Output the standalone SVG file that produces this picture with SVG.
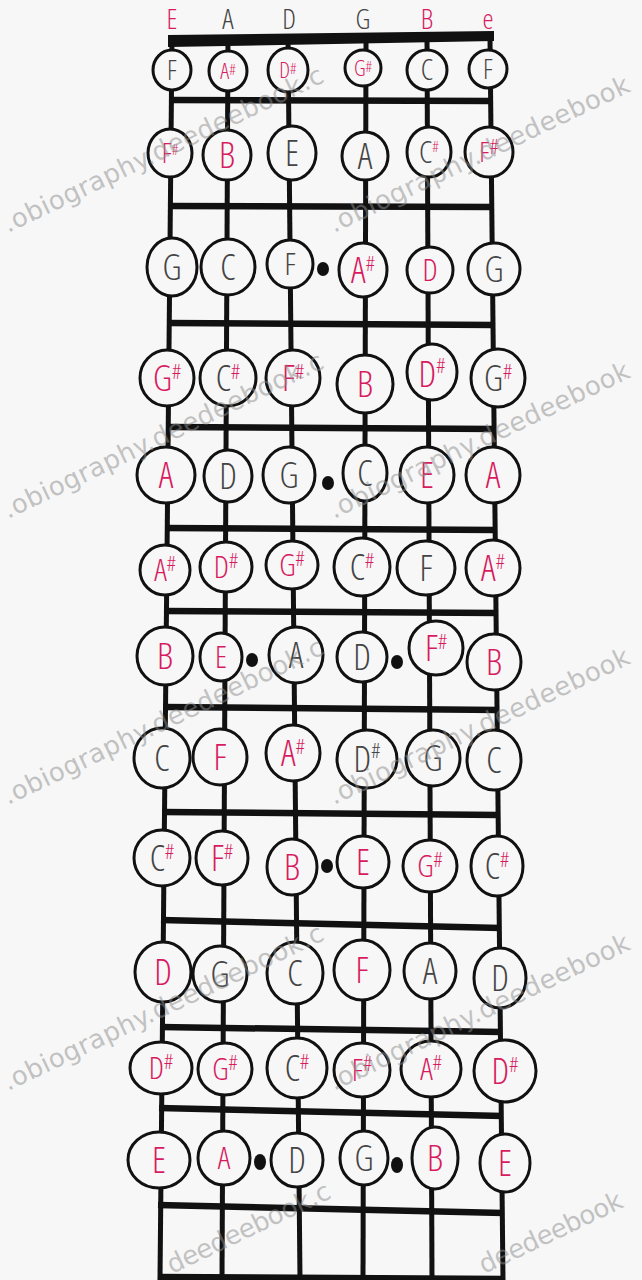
<svg xmlns="http://www.w3.org/2000/svg" width="642" height="1280" viewBox="0 0 642 1280">
<style>
.bg{fill:#f7f7f7}
.str{stroke:#111;stroke-width:5;stroke-linecap:butt}
.fret{stroke:#111;stroke-width:6.5;stroke-linecap:butt}
.nut{fill:#111}
.nc{fill:#f7f7f7;stroke:#111;stroke-width:3}
.dot{fill:#111}
.t{font-family:"Open Sans","DejaVu Sans",sans-serif;font-weight:300;font-stretch:85%;text-anchor:middle}
.big{font-size:36px}
.med{font-size:31px}
.sm{font-size:27px}
.sm2{font-size:22px}
.hd{font-size:28px}
.sh{font-size:21px}
.sh0{font-size:15px}
.k{fill:#444}
.r{fill:#d81b60}
.wm{font-family:"DejaVu Sans",sans-serif;font-size:26px;fill:#8c8c8c;fill-opacity:0.5}
</style>
<rect class="bg" x="0" y="0" width="642" height="1280"/>

<g id="string-labels">
<text class="t hd r" x="172" y="29">E</text>
<text class="t hd k" x="228" y="29">A</text>
<text class="t hd k" x="289" y="29">D</text>
<text class="t hd k" x="363" y="29">G</text>
<text class="t hd r" x="427" y="29">B</text>
<text class="t hd r" x="488" y="29">e</text>
</g>

<g id="fretboard">
<line class="str" x1="172" y1="38" x2="160" y2="1280"/>
<line class="str" x1="228" y1="38" x2="222" y2="1280"/>
<line class="str" x1="288" y1="38" x2="300" y2="1280"/>
<line class="str" x1="366" y1="38" x2="363" y2="1280"/>
<line class="str" x1="427" y1="38" x2="432" y2="1280"/>
<line class="str" x1="490" y1="38" x2="503" y2="1280"/>
<polygon class="nut" points="168,35 494,31 494,41 168,47"/>
<line class="fret" x1="169" y1="100" x2="493" y2="101"/>
<line class="fret" x1="168" y1="206" x2="494" y2="207"/>
<line class="fret" x1="167" y1="323" x2="495" y2="325"/>
<line class="fret" x1="166" y1="427" x2="496" y2="429"/>
<line class="fret" x1="165" y1="528" x2="497" y2="530"/>
<line class="fret" x1="164" y1="611" x2="498" y2="613"/>
<line class="fret" x1="163" y1="707" x2="499" y2="710"/>
<line class="fret" x1="162" y1="812" x2="500" y2="815"/>
<line class="fret" x1="161" y1="920" x2="501" y2="928"/>
<line class="fret" x1="160" y1="1027" x2="502" y2="1032"/>
<line class="fret" x1="159" y1="1108" x2="503" y2="1116"/>
<line class="fret" x1="158" y1="1205" x2="504" y2="1213"/>
<line class="fret" x1="158" y1="1277" x2="505" y2="1279"/>
</g>

<g id="inlays">
<ellipse class="dot" cx="323" cy="269" rx="6" ry="7"/>
<ellipse class="dot" cx="328" cy="483" rx="6" ry="7"/>
<ellipse class="dot" cx="252" cy="660" rx="6" ry="7"/>
<ellipse class="dot" cx="397" cy="662" rx="6" ry="7"/>
<ellipse class="dot" cx="327" cy="866" rx="6" ry="7"/>
<ellipse class="dot" cx="260" cy="1162" rx="6" ry="8"/>
<ellipse class="dot" cx="397" cy="1165" rx="6" ry="8"/>
</g>

<!-- Fret 1 -->
<g id="f1-s1"><ellipse class="nc" cx="172" cy="70" rx="19" ry="20"/><text class="t sm k" x="172" y="80">F</text></g>
<g id="f1-s2"><ellipse class="nc" cx="228" cy="71" rx="19" ry="20"/><text class="t sm2 r" x="228" y="79">A<tspan class="sh0" dy="-4">#</tspan></text></g>
<g id="f1-s3"><ellipse class="nc" cx="288" cy="70" rx="20" ry="22"/><text class="t sm2 r" x="288" y="78">D<tspan class="sh0" dy="-4">#</tspan></text></g>
<g id="f1-s4"><ellipse class="nc" cx="363" cy="68" rx="18" ry="18"/><text class="t sm2 r" x="363" y="76">G<tspan class="sh0" dy="-4">#</tspan></text></g>
<g id="f1-s5"><ellipse class="nc" cx="427" cy="70" rx="20" ry="20"/><text class="t k" x="427" y="80" style="font-size:29px">C</text></g>
<g id="f1-s6"><ellipse class="nc" cx="488" cy="69" rx="19" ry="19"/><text class="t sm k" x="488" y="79">F</text></g>

<!-- Fret 2 -->
<g id="f2-s1"><ellipse class="nc" cx="170" cy="153" rx="22" ry="24"/><text class="t r" x="170" y="163" style="font-size:28px">F<tspan class="sh0" dy="-8">#</tspan></text></g>
<g id="f2-s2"><ellipse class="nc" cx="227" cy="155" rx="24" ry="25"/><text class="t big r" x="227" y="168">B</text></g>
<g id="f2-s3"><ellipse class="nc" cx="292" cy="153" rx="24" ry="27"/><text class="t big k" x="292" y="166">E</text></g>
<g id="f2-s4"><ellipse class="nc" cx="365" cy="156" rx="23" ry="24"/><text class="t big k" x="365" y="169">A</text></g>
<g id="f2-s5"><ellipse class="nc" cx="429" cy="152" rx="22" ry="25"/><text class="t med" x="429" y="163"><tspan class="k">C</tspan><tspan class="r sh0" dy="-11">#</tspan></text></g>
<g id="f2-s6"><ellipse class="nc" cx="489" cy="152" rx="24" ry="25"/><text class="t r" x="489" y="162" style="font-size:28px">F<tspan class="sh" dy="-8">#</tspan></text></g>

<!-- Fret 3 -->
<g id="f3-s1"><ellipse class="nc" cx="172" cy="267" rx="25" ry="29"/><text class="t big k" x="172" y="280">G</text></g>
<g id="f3-s2"><ellipse class="nc" cx="228" cy="267" rx="27" ry="28"/><text class="t big k" x="228" y="280">C</text></g>
<g id="f3-s3"><ellipse class="nc" cx="290" cy="264" rx="23" ry="24"/><text class="t med k" x="290" y="275">F</text></g>
<g id="f3-s4"><ellipse class="nc" cx="363" cy="270" rx="24" ry="27"/><text class="t big r" x="363" y="283">A<tspan class="sh" dy="-12">#</tspan></text></g>
<g id="f3-s5"><ellipse class="nc" cx="430" cy="270" rx="23" ry="23"/><text class="t med r" x="430" y="281">D</text></g>
<g id="f3-s6"><ellipse class="nc" cx="494" cy="269" rx="26" ry="26"/><text class="t big k" x="494" y="282">G</text></g>

<!-- Fret 4 -->
<g id="f4-s1"><ellipse class="nc" cx="167" cy="378" rx="27" ry="28"/><text class="t big r" x="167" y="391">G<tspan class="sh" dy="-12">#</tspan></text></g>
<g id="f4-s2"><ellipse class="nc" cx="228" cy="378" rx="28" ry="28"/><text class="t big" x="228" y="391"><tspan class="k">C</tspan><tspan class="r sh" dy="-12">#</tspan></text></g>
<g id="f4-s3"><ellipse class="nc" cx="293" cy="378" rx="27" ry="28"/><text class="t big r" x="293" y="391">F<tspan class="sh" dy="-12">#</tspan></text></g>
<g id="f4-s4"><ellipse class="nc" cx="365" cy="384" rx="28" ry="29"/><text class="t big r" x="365" y="397">B</text></g>
<g id="f4-s5"><ellipse class="nc" cx="432" cy="372" rx="25" ry="28"/><text class="t big r" x="432" y="387">D<tspan class="sh" dy="-14">#</tspan></text></g>
<g id="f4-s6"><ellipse class="nc" cx="498" cy="378" rx="27" ry="29"/><text class="t big" x="498" y="391"><tspan class="k">G</tspan><tspan class="r sh" dy="-12">#</tspan></text></g>

<!-- Fret 5 -->
<g id="f5-s1"><ellipse class="nc" cx="166" cy="475" rx="29" ry="28"/><text class="t big r" x="166" y="488">A</text></g>
<g id="f5-s2"><ellipse class="nc" cx="228" cy="476" rx="24" ry="26"/><text class="t big k" x="228" y="489">D</text></g>
<g id="f5-s3"><ellipse class="nc" cx="289" cy="475" rx="26" ry="28"/><text class="t big k" x="289" y="488">G</text></g>
<g id="f5-s4"><ellipse class="nc" cx="365" cy="473" rx="22" ry="28"/><text class="t big k" x="365" y="486">C</text></g>
<g id="f5-s5"><ellipse class="nc" cx="427" cy="475" rx="27" ry="28"/><text class="t big r" x="427" y="488">E</text></g>
<g id="f5-s6"><ellipse class="nc" cx="493" cy="475" rx="27" ry="28"/><text class="t big r" x="493" y="488">A</text></g>

<!-- Fret 6 -->
<g id="f6-s1"><ellipse class="nc" cx="165" cy="570" rx="25" ry="25"/><text class="t med r" x="165" y="581">A<tspan class="sh" dy="-10">#</tspan></text></g>
<g id="f6-s2"><ellipse class="nc" cx="226" cy="567" rx="26" ry="25"/><text class="t med r" x="226" y="578">D<tspan class="sh" dy="-10">#</tspan></text></g>
<g id="f6-s3"><ellipse class="nc" cx="292" cy="565" rx="26" ry="24"/><text class="t med r" x="292" y="576">G<tspan class="sh" dy="-10">#</tspan></text></g>
<g id="f6-s4"><ellipse class="nc" cx="362" cy="567" rx="28" ry="29"/><text class="t big" x="362" y="580"><tspan class="k">C</tspan><tspan class="r sh" dy="-12">#</tspan></text></g>
<g id="f6-s5"><ellipse class="nc" cx="426" cy="568" rx="29" ry="27"/><text class="t big k" x="426" y="581">F</text></g>
<g id="f6-s6"><ellipse class="nc" cx="493" cy="568" rx="27" ry="28"/><text class="t big r" x="493" y="581">A<tspan class="sh" dy="-12">#</tspan></text></g>

<!-- Fret 7 -->
<g id="f7-s1"><ellipse class="nc" cx="165" cy="656" rx="28" ry="29"/><text class="t big r" x="165" y="669">B</text></g>
<g id="f7-s2"><ellipse class="nc" cx="221" cy="657" rx="21" ry="24"/><text class="t med r" x="221" y="668">E</text></g>
<g id="f7-s3"><ellipse class="nc" cx="296" cy="655" rx="27" ry="28"/><text class="t big k" x="296" y="668">A</text></g>
<g id="f7-s4"><ellipse class="nc" cx="362" cy="657" rx="25" ry="25"/><text class="t big k" x="362" y="670">D</text></g>
<g id="f7-s5"><ellipse class="nc" cx="436" cy="648" rx="27" ry="27"/><text class="t big r" x="436" y="661">F<tspan class="sh" dy="-12">#</tspan></text></g>
<g id="f7-s6"><ellipse class="nc" cx="494" cy="662" rx="27" ry="28"/><text class="t big r" x="494" y="675">B</text></g>

<!-- Fret 8 -->
<g id="f8-s1"><ellipse class="nc" cx="162" cy="758" rx="28" ry="30"/><text class="t big k" x="162" y="771">C</text></g>
<g id="f8-s2"><ellipse class="nc" cx="220" cy="757" rx="27" ry="28"/><text class="t big r" x="220" y="770">F</text></g>
<g id="f8-s3"><ellipse class="nc" cx="293" cy="753" rx="27" ry="28"/><text class="t big r" x="293" y="766">A<tspan class="sh" dy="-12">#</tspan></text></g>
<g id="f8-s4"><ellipse class="nc" cx="367" cy="759" rx="30" ry="29"/><text class="t big k" x="367" y="772">D<tspan class="sh" dy="-14">#</tspan></text></g>
<g id="f8-s5"><ellipse class="nc" cx="433" cy="758" rx="27" ry="28"/><text class="t big k" x="433" y="771">G</text></g>
<g id="f8-s6"><ellipse class="nc" cx="494" cy="760" rx="27" ry="30"/><text class="t big k" x="494" y="773">C</text></g>

<!-- Fret 9 -->
<g id="f9-s1"><ellipse class="nc" cx="162" cy="858" rx="28" ry="28"/><text class="t big" x="162" y="871"><tspan class="k">C</tspan><tspan class="r sh" dy="-12">#</tspan></text></g>
<g id="f9-s2"><ellipse class="nc" cx="222" cy="858" rx="26" ry="27"/><text class="t big r" x="222" y="871">F<tspan class="sh" dy="-12">#</tspan></text></g>
<g id="f9-s3"><ellipse class="nc" cx="292" cy="867" rx="25" ry="28"/><text class="t big r" x="292" y="880">B</text></g>
<g id="f9-s4"><ellipse class="nc" cx="363" cy="862" rx="26" ry="26"/><text class="t big r" x="363" y="875">E</text></g>
<g id="f9-s5"><ellipse class="nc" cx="430" cy="866" rx="27" ry="26"/><text class="t med r" x="430" y="877">G<tspan class="sh" dy="-10">#</tspan></text></g>
<g id="f9-s6"><ellipse class="nc" cx="497" cy="866" rx="26" ry="30"/><text class="t big" x="497" y="879"><tspan class="k">C</tspan><tspan class="r sh" dy="-12">#</tspan></text></g>

<!-- Fret 10 -->
<g id="f10-s1"><ellipse class="nc" cx="163" cy="972" rx="28" ry="30"/><text class="t big r" x="163" y="985">D</text></g>
<g id="f10-s2"><ellipse class="nc" cx="220" cy="974" rx="27" ry="28"/><text class="t big k" x="220" y="987">G</text></g>
<g id="f10-s3"><ellipse class="nc" cx="295" cy="973" rx="28" ry="31"/><text class="t big k" x="295" y="986">C</text></g>
<g id="f10-s4"><ellipse class="nc" cx="362" cy="970" rx="28" ry="30"/><text class="t big r" x="362" y="983">F</text></g>
<g id="f10-s5"><ellipse class="nc" cx="430" cy="971" rx="26" ry="28"/><text class="t big k" x="430" y="984">A</text></g>
<g id="f10-s6"><ellipse class="nc" cx="500" cy="978" rx="26" ry="30"/><text class="t big k" x="500" y="991">D</text></g>

<!-- Fret 11 -->
<g id="f11-s1"><ellipse class="nc" cx="161" cy="1068" rx="31" ry="26"/><text class="t med r" x="161" y="1079">D<tspan class="sh" dy="-10">#</tspan></text></g>
<g id="f11-s2"><ellipse class="nc" cx="225" cy="1069" rx="27" ry="26"/><text class="t med r" x="225" y="1080">G<tspan class="sh" dy="-10">#</tspan></text></g>
<g id="f11-s3"><ellipse class="nc" cx="297" cy="1068" rx="30" ry="30"/><text class="t big" x="297" y="1081"><tspan class="k">C</tspan><tspan class="r sh" dy="-12">#</tspan></text></g>
<g id="f11-s4"><ellipse class="nc" cx="362" cy="1070" rx="28" ry="27"/><text class="t med r" x="362" y="1081">F<tspan class="sh" dy="-10">#</tspan></text></g>
<g id="f11-s5"><ellipse class="nc" cx="431" cy="1069" rx="30" ry="28"/><text class="t med r" x="431" y="1080">A<tspan class="sh" dy="-10">#</tspan></text></g>
<g id="f11-s6"><ellipse class="nc" cx="505" cy="1071" rx="31" ry="31"/><text class="t big r" x="505" y="1084">D<tspan class="sh" dy="-12">#</tspan></text></g>

<!-- Fret 12 -->
<g id="f12-s1"><ellipse class="nc" cx="159" cy="1160" rx="31" ry="28"/><text class="t big r" x="159" y="1173">E</text></g>
<g id="f12-s2"><ellipse class="nc" cx="224" cy="1158" rx="26" ry="27"/><text class="t med r" x="224" y="1169">A</text></g>
<g id="f12-s3"><ellipse class="nc" cx="297" cy="1160" rx="26" ry="27"/><text class="t big k" x="297" y="1173">D</text></g>
<g id="f12-s4"><ellipse class="nc" cx="364" cy="1158" rx="24" ry="27"/><text class="t big k" x="364" y="1171">G</text></g>
<g id="f12-s5"><ellipse class="nc" cx="435" cy="1158" rx="23" ry="31"/><text class="t big r" x="435" y="1171">B</text></g>
<g id="f12-s6"><ellipse class="nc" cx="505" cy="1163" rx="25" ry="29"/><text class="t big r" x="505" y="1176">E</text></g>

<g id="watermark">
<text class="wm" transform="translate(8,233) rotate(-25.5)" textLength="352" lengthAdjust="spacing">.obiography.deedeebook.c</text>
<text class="wm" transform="translate(8,519) rotate(-25.5)" textLength="352" lengthAdjust="spacing">.obiography.deedeebook.c</text>
<text class="wm" transform="translate(8,805) rotate(-25.5)" textLength="352" lengthAdjust="spacing">.obiography.deedeebook.c</text>
<text class="wm" transform="translate(8,1091) rotate(-25.5)" textLength="352" lengthAdjust="spacing">.obiography.deedeebook.c</text>
<text class="wm" transform="translate(172,1274) rotate(-25.5)" textLength="178" lengthAdjust="spacing">deedeebook.c</text>
<text class="wm" transform="translate(334,233) rotate(-25.5)" textLength="330" lengthAdjust="spacing">.obiography.deedeebook</text>
<text class="wm" transform="translate(334,519) rotate(-25.5)" textLength="330" lengthAdjust="spacing">.obiography.deedeebook</text>
<text class="wm" transform="translate(334,805) rotate(-25.5)" textLength="330" lengthAdjust="spacing">.obiography.deedeebook</text>
<text class="wm" transform="translate(334,1091) rotate(-25.5)" textLength="330" lengthAdjust="spacing">.obiography.deedeebook</text>
<text class="wm" transform="translate(484,1274) rotate(-25.5)" textLength="156" lengthAdjust="spacing">deedeebook</text>
</g>
</svg>
